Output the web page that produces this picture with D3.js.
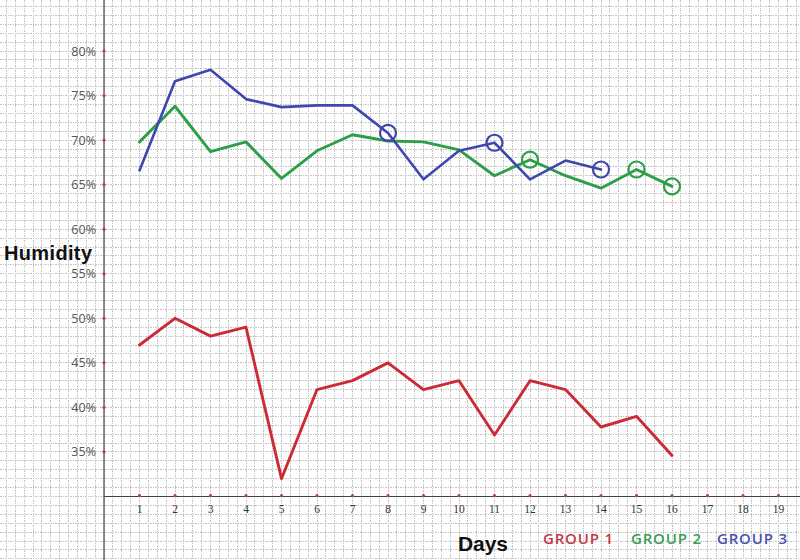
<!DOCTYPE html>
<html>
<head>
<meta charset="utf-8">
<script src="https://cdn.jsdelivr.net/npm/d3@7"></script>
<style>
html,body{margin:0;padding:0;background:#fff;}
svg{display:block;}
</style>
</head>
<body>
<svg id="chart" width="800" height="560"></svg>
<script>
// ---- data ----
const days = [1,2,3,4,5,6,7,8,9,10,11,12,13,14,15,16,17,18,19];
const yTicks = [35,40,45,50,55,60,65,70,75,80];
const group1 = [47,50,48,49,32,42,43,45,42,43,36.9,43,42,37.8,39,34.6];
const group2 = [69.8,73.8,68.7,69.8,65.7,68.8,70.6,69.9,69.8,68.9,66,67.8,66,64.6,66.7,64.8];
const group3 = [66.6,76.6,77.9,74.6,73.7,73.9,73.9,70.8,65.6,68.8,69.7,65.6,67.7,66.7];
const circles2 = [12,15,16];
const circles3 = [8,11,14];
const seriesNames = ["GROUP 1","GROUP 2","GROUP 3"];
const colors = ["#cc2b36","#2e9e48","#3f47ae"];
const legendColors = ["#c43a42","#3a9c58","#4a52b0"];

const W = 800, H = 560;
const svg = d3.select("#chart");
const x = d3.scaleLinear().domain([0,19]).range([104,778.5]);
const y = d3.scaleLinear().domain([30,80]).range([496.5,51]);

// grid (graph paper)
const g = svg.append("g");
const xStep = 0.25;
const gridX = d3.range(-12,24.01,xStep);
gridX.forEach(v=>{const px=x(v); if(px>=0&&px<=W) g.append("line").attr("x1",px).attr("x2",px).attr("y1",0).attr("y2",H)
  .attr("stroke","#c2c2c2").attr("stroke-dasharray","1.5,1").attr("stroke-width",1).attr("shape-rendering","crispEdges");});
const gridY = d3.range(22,90,1);
gridY.forEach(v=>{const py=y(v); if(py>=0&&py<=H) g.append("line").attr("y1",py).attr("y2",py).attr("x1",0).attr("x2",W)
  .attr("stroke","#c2c2c2").attr("stroke-dasharray","1.5,1").attr("stroke-width",1).attr("shape-rendering","crispEdges");});

// axes lines
svg.append("line").attr("x1",x(0)).attr("x2",x(0)).attr("y1",0).attr("y2",H).attr("stroke","#444").attr("stroke-width",1.2);
svg.append("line").attr("x1",x(0)).attr("x2",W).attr("y1",y(30)).attr("y2",y(30)).attr("stroke","#444").attr("stroke-width",1.2);

// y ticks (dots + labels)
yTicks.forEach(t=>{
  svg.append("circle").attr("cx",x(0)).attr("cy",y(t)).attr("r",1.6).attr("fill","#b5444a");
  svg.append("text").attr("x",96).attr("y",y(t)+4.5).attr("text-anchor","end")
    .attr("font-family","Open Sans, Liberation Sans, Arial, sans-serif").attr("font-size",12.5).attr("fill","#555").text(t+"%");
});
// x ticks
days.forEach(d=>{
  svg.append("circle").attr("cx",x(d)).attr("cy",y(30)-0.8).attr("r",1.6).attr("fill","#b5444a");
  svg.append("text").attr("x",x(d)).attr("y",513).attr("text-anchor","middle")
    .attr("font-family","Liberation Serif, Times New Roman, serif").attr("font-size",11.5).attr("fill","#333").text(d);
});

// lines
const line = d3.line().x((v,i)=>x(i+1)).y(v=>y(v));
[group1,group2,group3].forEach((s,k)=>{
  svg.append("path").datum(s).attr("d",line).attr("fill","none").attr("stroke",colors[k])
    .attr("stroke-width",k===2?2.6:2.9).attr("stroke-linejoin","round").attr("stroke-linecap","round");
});
// circles
circles2.forEach(d=>{
  svg.append("circle").attr("cx",x(d)).attr("cy",y(group2[d-1])).attr("r",8).attr("fill","none").attr("stroke",colors[1]).attr("stroke-width",2.2);
});
circles3.forEach(d=>{
  svg.append("circle").attr("cx",x(d)).attr("cy",y(group3[d-1])).attr("r",8).attr("fill","none").attr("stroke",colors[2]).attr("stroke-width",2.2);
});

// axis titles
svg.append("text").attr("x",4).attr("y",260).attr("font-family","Liberation Sans, Arial, sans-serif")
  .attr("font-weight","bold").attr("font-size",20).attr("fill","#111").attr("textLength",88).text("Humidity");
svg.append("text").attr("x",458).attr("y",551).attr("font-family","Liberation Sans, Arial, sans-serif")
  .attr("font-weight","bold").attr("font-size",21).attr("fill","#111").attr("textLength",50).text("Days");

// legend
const legX = [543,631,717];
seriesNames.forEach((n,k)=>{
  svg.append("text").attr("x",legX[k]).attr("y",544).attr("font-family","Open Sans, Liberation Sans, Arial, sans-serif")
    .attr("font-weight",600).attr("font-size",15).attr("fill",legendColors[k]).attr("textLength",70).text(n);
});
</script>
</body>
</html>
